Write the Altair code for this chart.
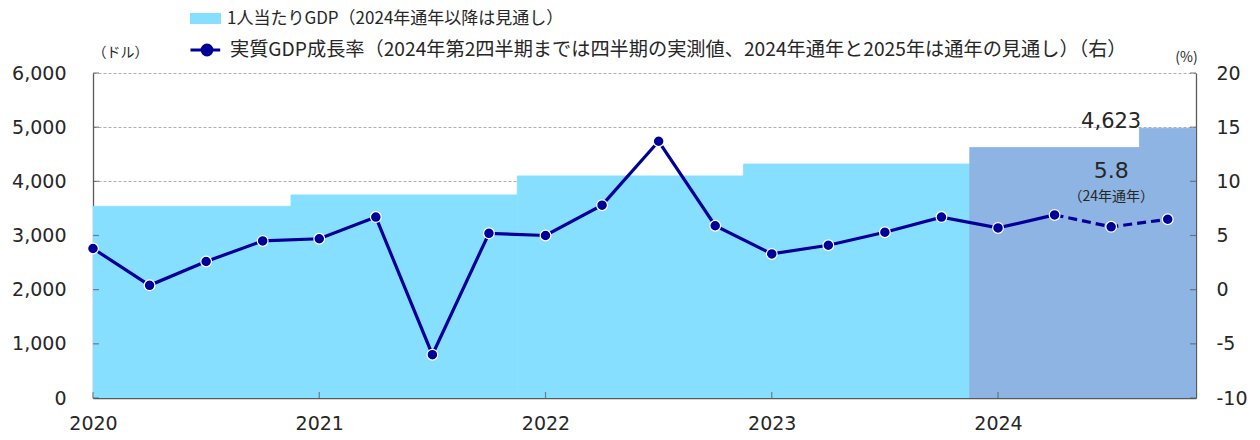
import altair as alt
import pandas as pd

# ---------------- data ----------------
periods = ["2020Q1", "2020Q2", "2020Q3", "2020Q4",
           "2021Q1", "2021Q2", "2021Q3", "2021Q4",
           "2022Q1", "2022Q2", "2022Q3", "2022Q4",
           "2023Q1", "2023Q2", "2023Q3", "2023Q4",
           "2024Q1", "2024Q2", "2024通年", "2025通年"]
period_year = [2020, 2020, 2020, 2020, 2021, 2021, 2021, 2021,
               2022, 2022, 2022, 2022, 2023, 2023, 2023, 2023,
               2024, 2024, 2024, 2025]
growth = [3.8, 0.4, 2.6, 4.5, 4.7, 6.7, -6.0, 5.2, 5.0, 7.8,
          13.7, 5.9, 3.3, 4.1, 5.3, 6.7, 5.7, 6.9, 5.8, 6.5]
growth_outlook = [False] * 18 + [True, True]

gdp_years = [2020, 2021, 2022, 2023, 2024, 2025]
gdp_values = [3540, 3750, 4100, 4320, 4623, 4980]
gdp_outlook = [False, False, False, False, True, True]

year_labels = ["2020", "2021", "2022", "2023", "2024"]
year_tick_idx = [0, 4, 8, 12, 16]
gdp_ticks = [0, 1000, 2000, 3000, 4000, 5000, 6000]
growth_ticks = [-10, -5, 0, 5, 10, 15, 20]

lab_gdp = "1人当たりGDP（2024年通年以降は見通し）"
lab_growth = "実質GDP成長率（2024年第2四半期までは四半期の実測値、2024年通年と2025年は通年の見通し）（右）"
gdp_note_period = "2024通年"
growth_note = "（24年通年）"

# ---------------- tables ----------------
gdp_map = dict(zip(gdp_years, gdp_values))
gdp_out_map = dict(zip(gdp_years, gdp_outlook))
df = pd.DataFrame({
    "idx": list(range(len(periods))),
    "period": periods,
    "year": period_year,
    "growth": growth,
    "g_out": growth_outlook,
})
df["gdp"] = df["year"].map(gdp_map)
df["gdp_out"] = df["year"].map(gdp_out_map)
df["s_gdp"] = lab_gdp
df["s_growth"] = lab_growth
df["note"] = growth_note

# ---------------- style ----------------
W, H = 1103, 325
LIGHT = "#87DFFF"
DARK = "#8DB4E2"
NAVY = "#000099"
AXC = "#595959"
TXT = "#262626"
NUMFONT = "DejaVu Sans"
JPFONT = "Noto Sans CJK JP"

# nested ternary label expression built from the tick/label lists
xlabel_expr = "''"
for v, s in reversed(list(zip(year_tick_idx, year_labels))):
    xlabel_expr = "datum.value == %d ? '%s' : (%s)" % (v, s, xlabel_expr)

xscale = alt.Scale(domain=[0, len(periods) - 0.5], nice=False, zero=False)
x_axis = alt.Axis(values=year_tick_idx, labelExpr=xlabel_expr, title=None,
                  tickSize=0, labelPadding=16, grid=False, labelFlush=False,
                  domainColor=AXC, domainWidth=1.3,
                  labelFont=NUMFONT, labelFontSize=19, labelColor=TXT)
x_enc = alt.X("idx:Q", scale=xscale, axis=x_axis)

y_left = alt.Y("gdp:Q",
               scale=alt.Scale(domain=[0, 6000], nice=False),
               axis=alt.Axis(values=gdp_ticks, format=",.0f", title="（ドル）",
                             titleAngle=0, titleX=27, titleY=-21, titleAlign="center",
                             titleBaseline="middle", titleFont=JPFONT, titleFontSize=14,
                             titleFontWeight="normal", titleColor=TXT,
                             tickSize=0, labelPadding=27, grid=True,
                             gridDash=[3, 2], gridColor="#b0b0b0", gridWidth=1,
                             domainColor=AXC, domainWidth=1.3,
                             labelFont=NUMFONT, labelFontSize=19, labelColor=TXT))

y_right = alt.Y("growth:Q",
                scale=alt.Scale(domain=[-10, 20], nice=False, zero=False),
                axis=alt.Axis(orient="right", values=growth_ticks, title="(%)",
                              labelExpr="datum.value < 0 ? '-' + abs(datum.value) : '' + datum.value",
                              titleAngle=0, titleX=-10, titleY=-16, titleAlign="center",
                              titleBaseline="middle", titleFont=JPFONT, titleFontSize=14,
                              titleFontWeight="normal", titleColor=TXT,
                              tickSize=0, labelPadding=20, grid=False,
                              domainColor=AXC, domainWidth=1.3,
                              labelFont=NUMFONT, labelFontSize=19, labelColor=TXT))

S = 1089  # legend symbol size -> 33px box
rect_path = "M-0.94,-0.33H0.94V0.33H-0.94Z"
line_path = ("M-1,0H-0.38M0.38,0H0.8"
             "M-0.3,0A0.3,0.3,0,1,1,0.3,0A0.3,0.3,0,1,1,-0.3,0Z")

base = alt.Chart(df)

bars_src = base.transform_calculate(
    x0="datum.idx - 0.5", x1="datum.idx + 0.5"
).transform_aggregate(
    x0="min(x0)", x1="max(x1)", gdp="mean(gdp)", groupby=["year", "gdp_out", "s_gdp"]
).transform_calculate(base0="0")

bars_actual = bars_src.transform_filter("!datum.gdp_out").mark_rect(
    clip=True, stroke=LIGHT, strokeWidth=0.8
).encode(
    x=alt.X("x0:Q", scale=xscale, axis=x_axis),
    x2="x1:Q",
    y=y_left,
    y2="base0:Q",
    fill=alt.Fill("s_gdp:N", scale=alt.Scale(domain=[lab_gdp], range=[LIGHT]),
                  legend=alt.Legend(orient="none", legendX=96, legendY=-71, title=None,
                                    symbolType=rect_path, symbolSize=S,
                                    symbolStrokeWidth=0, labelOffset=5,
                                    labelFont=JPFONT, labelFontSize=17,
                                    labelColor=TXT, labelLimit=2000, padding=0)),
)
bars_fc = bars_src.transform_filter("datum.gdp_out").mark_rect(
    clip=True, color=DARK, stroke=DARK, strokeWidth=0.8
).encode(
    x=alt.X("x0:Q", scale=xscale, axis=x_axis),
    x2="x1:Q",
    y=y_left,
    y2="base0:Q",
)

# short inward tick marks (6px inside the plot frame)
ticks_left = alt.Chart(pd.DataFrame({"gdp": gdp_ticks})).mark_tick(
    size=6, thickness=1.2, color=AXC, orient="horizontal"
).encode(y=y_left, x=alt.value(3))

ticks_x = alt.Chart(pd.DataFrame({"idx": year_tick_idx})).mark_tick(
    size=6, thickness=1.2, color=AXC, orient="vertical"
).encode(x=x_enc, y=alt.value(H - 3))

gdp_note = base.transform_filter(alt.datum.period == gdp_note_period).mark_text(
    font=NUMFONT, fontSize=21, color=TXT, baseline="alphabetic", align="center", dy=-20
).encode(x=x_enc, y=y_left, text=alt.Text("gdp:Q", format=","))

left_group = alt.layer(bars_actual, bars_fc, ticks_left, ticks_x, gdp_note)

line_solid = base.transform_filter("!datum.g_out || datum.idx == 17").mark_line(
    strokeWidth=3.2
).encode(
    x=x_enc, y=y_right,
    stroke=alt.Stroke("s_growth:N", scale=alt.Scale(domain=[lab_growth], range=[NAVY]),
                      legend=alt.Legend(orient="none", legendX=96, legendY=-41, title=None,
                                        symbolType=line_path, symbolSize=S,
                                        symbolStrokeWidth=3, symbolFillColor=NAVY,
                                        labelOffset=5,
                                        labelFont=JPFONT, labelFontSize=19.2,
                                        labelColor=TXT, labelLimit=2000, padding=0)),
)
line_dash = base.transform_filter("datum.g_out || datum.idx == 17").mark_line(
    strokeWidth=3.2, strokeDash=[9, 5], color=NAVY
).encode(x=x_enc, y=y_right)

points = base.mark_circle(size=115, color=NAVY, opacity=1, stroke="white", strokeWidth=1.2).encode(
    x=x_enc, y=y_right
)

ticks_right = alt.Chart(pd.DataFrame({"growth": growth_ticks})).mark_tick(
    size=6, thickness=1.2, color=AXC, orient="horizontal"
).encode(y=y_right, x=alt.value(W - 3))

g_note_val = base.transform_filter(alt.datum.period == gdp_note_period).mark_text(
    font=NUMFONT, fontSize=22, color=TXT, baseline="alphabetic", align="center", dy=-49
).encode(x=x_enc, y=y_right, text=alt.Text("growth:Q", format=".1f"))

g_note_txt = base.transform_filter(alt.datum.period == gdp_note_period).mark_text(
    font=JPFONT, fontSize=14, color=TXT, baseline="middle", align="center", dy=-30
).encode(x=x_enc, y=y_right, text="note:N")

right_group = alt.layer(line_solid, line_dash, points, ticks_right, g_note_val, g_note_txt)

chart = alt.layer(left_group, right_group).resolve_scale(
    y="independent", fill="independent", stroke="independent"
).properties(
    width=W, height=H,
    autosize=alt.AutoSizeParams(type="none"),
    padding={"left": 85, "top": 65, "right": 56, "bottom": 34},
    background="white",
).configure_view(stroke=None)

chart.save("out.html", embed_options={"renderer": "svg", "actions": False})
